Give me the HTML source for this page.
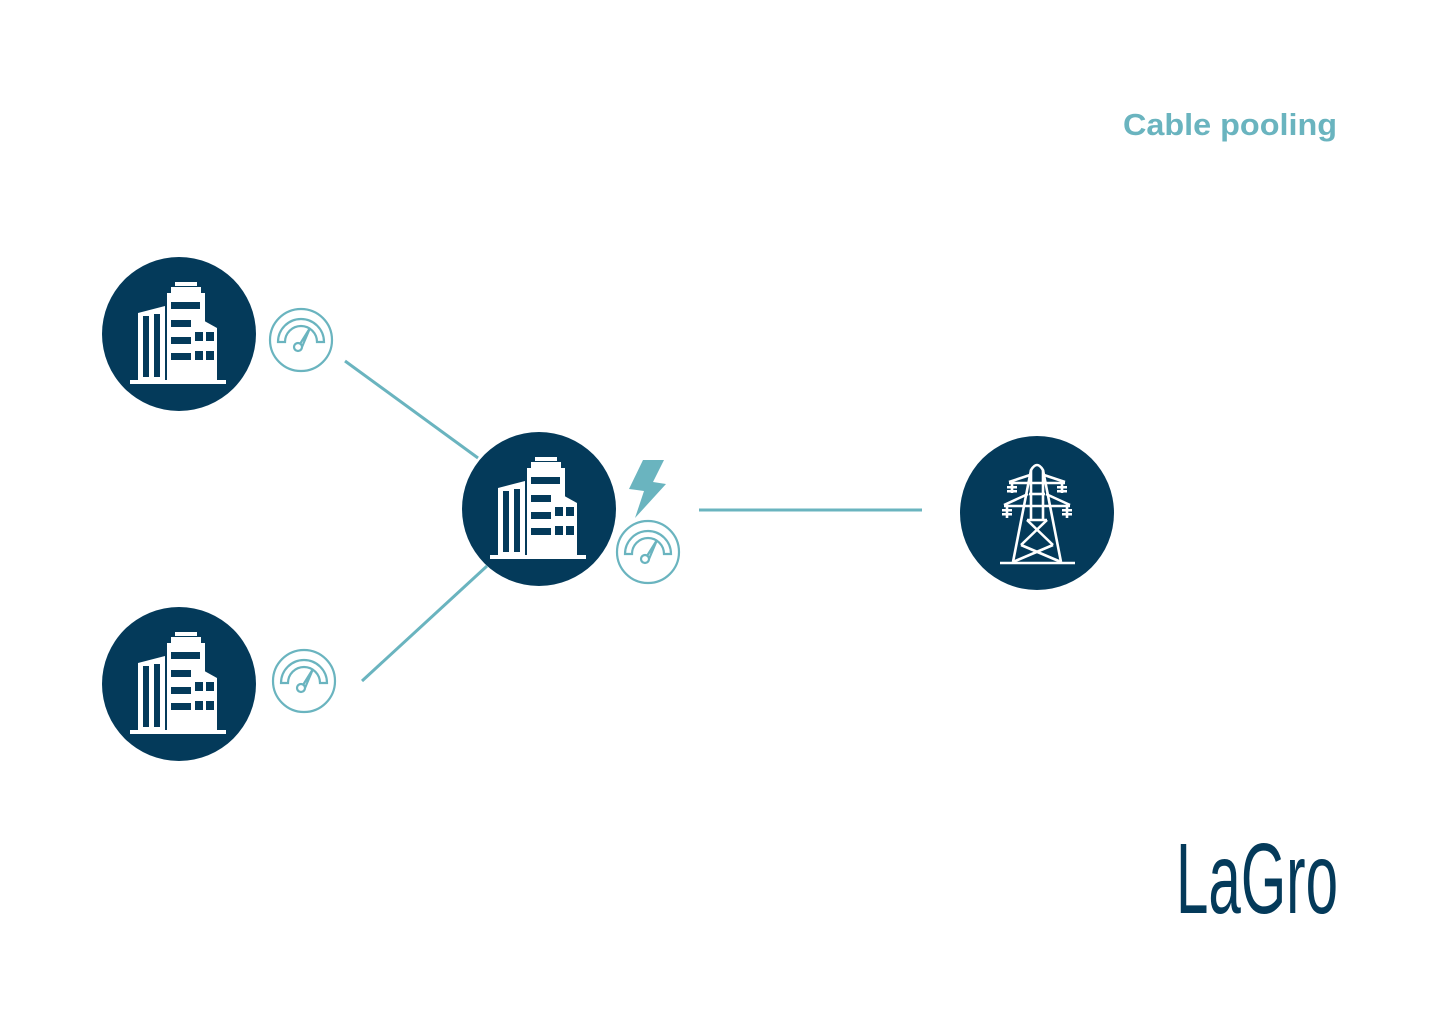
<!DOCTYPE html>
<html><head><meta charset="utf-8"><style>html,body{margin:0;padding:0;background:#fff}svg{display:block}</style></head>
<body>
<svg width="1440" height="1018" viewBox="0 0 1440 1018" xmlns="http://www.w3.org/2000/svg">
<defs>
<g id="bld">
 <circle cx="0" cy="0" r="77" fill="#043a5a"/>
 <g fill="#fff">
  <rect x="-4" y="-52" width="22" height="4"/>
  <rect x="-8" y="-47" width="30" height="6"/>
  <rect x="-12" y="-41" width="38" height="88"/>
  <polygon points="-41,-21 -14,-28 -14,47 -41,47"/>
  <polygon points="11,-21 38,-6 38,47 11,47"/>
  <rect x="-49" y="46" width="96" height="4"/>
 </g>
 <g fill="#043a5a">
  <rect x="-8" y="-32" width="29" height="7"/>
  <rect x="-8" y="-14" width="20" height="7"/>
  <rect x="-8" y="3" width="20" height="7"/>
  <rect x="-8" y="19" width="20" height="7"/>
  <rect x="-36" y="-18" width="6" height="61"/>
  <rect x="-25" y="-20" width="6" height="63"/>
  <rect x="-12" y="-41" width="4" height="88" fill="#fff"/>
  <rect x="16" y="-2" width="8" height="9"/>
  <rect x="27" y="-2" width="8" height="9"/>
  <rect x="16" y="17" width="8" height="9"/>
  <rect x="27" y="17" width="8" height="9"/>
 </g>
</g>
<g id="gauge" fill="none" stroke="#6ab4bf" stroke-width="2.2">
 <circle cx="0" cy="0" r="31"/>
 <path d="M-23,2 A23,23 0 0 1 23,2 L16,2 A16,16 0 0 0 -16,2 Z"/>
 <circle cx="-3" cy="7" r="4"/>
 <path d="M-1,4 L9,-12 L1,7"/>
</g>
</defs>

<text x="1337" y="135" text-anchor="end" font-family="Liberation Sans, sans-serif" font-weight="bold" font-size="31" fill="#6ab4bf" textLength="214" lengthAdjust="spacingAndGlyphs">Cable pooling</text>

<g stroke="#6ab4bf" stroke-width="3" fill="none">
 <line x1="345" y1="361" x2="478" y2="458"/>
 <line x1="362" y1="681" x2="487" y2="566"/>
 <line x1="699" y1="510" x2="922" y2="510"/>
</g>

<use href="#bld" x="179" y="334"/>
<use href="#bld" x="179" y="684"/>
<use href="#bld" x="539" y="509"/>

<use href="#gauge" x="301" y="340"/>
<use href="#gauge" x="304" y="681"/>
<use href="#gauge" x="648" y="552"/>

<polygon points="643,460 664,460 653,482 666,484 635,518 644,491 629,489" fill="#6ab4bf"/>

<circle cx="1037" cy="513" r="77" fill="#043a5a"/>
<g stroke="#fff" stroke-width="2.6" fill="none" stroke-linejoin="round">
 <path d="M1013,562 L1031,470 Q1037,460 1043,470 L1061,562"/>
 <line x1="1000" y1="563" x2="1075" y2="563"/>
 <line x1="1031" y1="470" x2="1031" y2="520"/>
 <line x1="1043" y1="470" x2="1043" y2="520"/>
 <path d="M1009,482 L1030,475 M1044,475 L1065,482 M1009,483 L1065,483"/>
 <path d="M1004,505 L1028,494 M1046,494 L1070,505 M1004,506 L1070,506"/>
 <line x1="1029" y1="494" x2="1045" y2="494"/>
 <line x1="1027" y1="520" x2="1047" y2="520"/>
 <path d="M1027,520 L1053,545 M1047,520 L1021,545 M1021,545 L1061,562 M1053,545 L1013,562"/>
 <path d="M1012,483 v10 M1062,483 v10 M1007,506 v12 M1067,506 v12"/>
</g>
<g fill="#fff">
 <rect x="1007" y="486" width="10" height="2.5"/><rect x="1007" y="490" width="10" height="2.5"/>
 <rect x="1057" y="486" width="10" height="2.5"/><rect x="1057" y="490" width="10" height="2.5"/>
 <rect x="1002" y="509" width="10" height="2.5"/><rect x="1002" y="513" width="10" height="2.5"/>
 <rect x="1062" y="509" width="10" height="2.5"/><rect x="1062" y="513" width="10" height="2.5"/>
</g>

<text x="1176" y="913" font-family="Liberation Sans Narrow, Liberation Sans, sans-serif" font-size="100" fill="#043a5a" textLength="162" lengthAdjust="spacingAndGlyphs">LaGro</text>
</svg>
</body></html>
